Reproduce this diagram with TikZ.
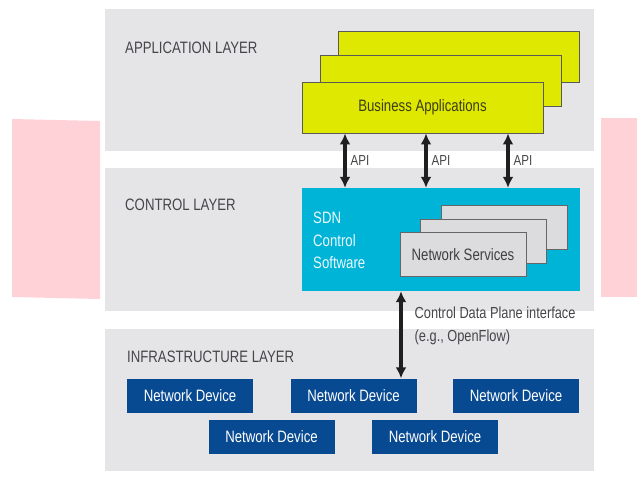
\documentclass[tikz,border=0pt]{standalone}
\usepackage{fontspec}
\setmainfont[FakeStretch=0.8]{Liberation Sans}
\usepackage{xcolor}
\usepackage{tikz}
\usetikzlibrary{arrows.meta,positioning}

\definecolor{panelgray}{RGB}{229,229,231}
\definecolor{pinkbar}{RGB}{255,210,216}
\definecolor{appyellow}{RGB}{222,232,0}
\definecolor{apptext}{RGB}{62,62,20}
\definecolor{sdncyan}{RGB}{0,180,216}
\definecolor{svcgray}{RGB}{220,220,222}
\definecolor{devblue}{RGB}{8,74,146}
\definecolor{labelgray}{RGB}{70,70,74}

\begin{document}
\begin{tikzpicture}[x=1pt, y=-1pt,
  every node/.style={font=\fontsize{16.5}{19}\selectfont},
  panel/.style={rectangle, fill=panelgray, minimum width=489pt,
                inner sep=0pt},
  layerlbl/.style={anchor=west, text=labelgray, inner sep=0pt},
  app/.style={rectangle, draw=black!65, line width=0.9pt, fill=appyellow,
              minimum width=241pt, minimum height=51pt, text=apptext},
  svc/.style={rectangle, draw=black!60, line width=0.9pt, fill=svcgray,
              minimum width=126pt, minimum height=44pt, text=black!75},
  dev/.style={rectangle, fill=devblue, text=white, minimum width=126pt,
              minimum height=34pt, inner sep=0pt},   % network devices
  link/.style={{Latex[length=11pt,width=11pt]}-{Latex[length=11pt,width=11pt]},
               line width=3.4pt, black!88},
  lbl/.style={font=\fontsize{14.5}{16}\selectfont, text=labelgray, inner sep=0pt},
]
\useasboundingbox (0,0) rectangle (637,480);

%% ── side bars and layer panels ───────────────────────────────────────
\fill[pinkbar] (12,119) -- (100,121) -- (100,299) -- (12,297) -- cycle;
\fill[pinkbar] (601,118) -- (637,118) -- (637,297) -- (601,297) -- cycle;

\node[panel, minimum height=142pt] (apppanel)   at (349.5,80)    {};
\node[panel, minimum height=143pt] (ctrlpanel)  at (349.5,239.5) {};
\node[panel, minimum height=142pt] (infrapanel) at (349.5,400)   {};

\node[layerlbl] (applbl)   at (125,48)  {APPLICATION LAYER};
\node[layerlbl] (ctrllbl)  at (125,205) {CONTROL LAYER};
\node[layerlbl] (infralbl) at (127,357) {INFRASTRUCTURE LAYER};

%% ── application layer ────────────────────────────────────────────────
\node[app] (ba3) at (458.5,57)   {};
\node[app] (ba2) at (440.5,81)   {};
\node[app] (ba1) at (422.5,107.5) {Business Applications};

%% ── control layer ────────────────────────────────────────────────────
\node[rectangle, fill=sdncyan, minimum width=278pt, minimum height=103pt]
  (sdn) at (441,239.5) {};
\node[anchor=north west, align=left, inner sep=0pt, text=white!92!sdncyan,
      font=\fontsize{16.5}{22.5}\selectfont] (sdntxt) at (313,212)
  {SDN\\Control\\Software};

\node[svc] (ns3) at (504.5,227.5) {};
\node[svc] (ns2) at (483.5,241)   {};
\node[svc] (ns1) at (463,254.5)   {Network Services};

%% ── infrastructure layer ─────────────────────────────────────────────
\node[dev] (nd1) at (190,395.5)   {Network Device};
\node[dev] (nd2) at (353.5,395.5) {Network Device};
\node[dev] (nd3) at (516,395.5)   {Network Device};
\node[dev] (nd4) at (271.5,436.5) {Network Device};
\node[dev] (nd5) at (435,436.5)   {Network Device};

%% ── interfaces ───────────────────────────────────────────────────────
\coordinate (api1) at (345,0);
\coordinate (api2) at (426,0);
\coordinate (api3) at (508,0);
\coordinate (cdpi) at (401,0);

\foreach \a in {api1,api2,api3}
  \draw[link] (ba1.south -| \a) -- node[lbl, right=4pt] {API} (sdn.north -| \a);

\draw[link] (sdn.south -| cdpi) --
  node[lbl, right=12pt, pos=0.4, align=left,
       font=\fontsize{16}{23}\selectfont]
  {Control Data Plane interface\\(e.g., OpenFlow)} (nd2.north -| cdpi);

\end{tikzpicture}
\end{document}
